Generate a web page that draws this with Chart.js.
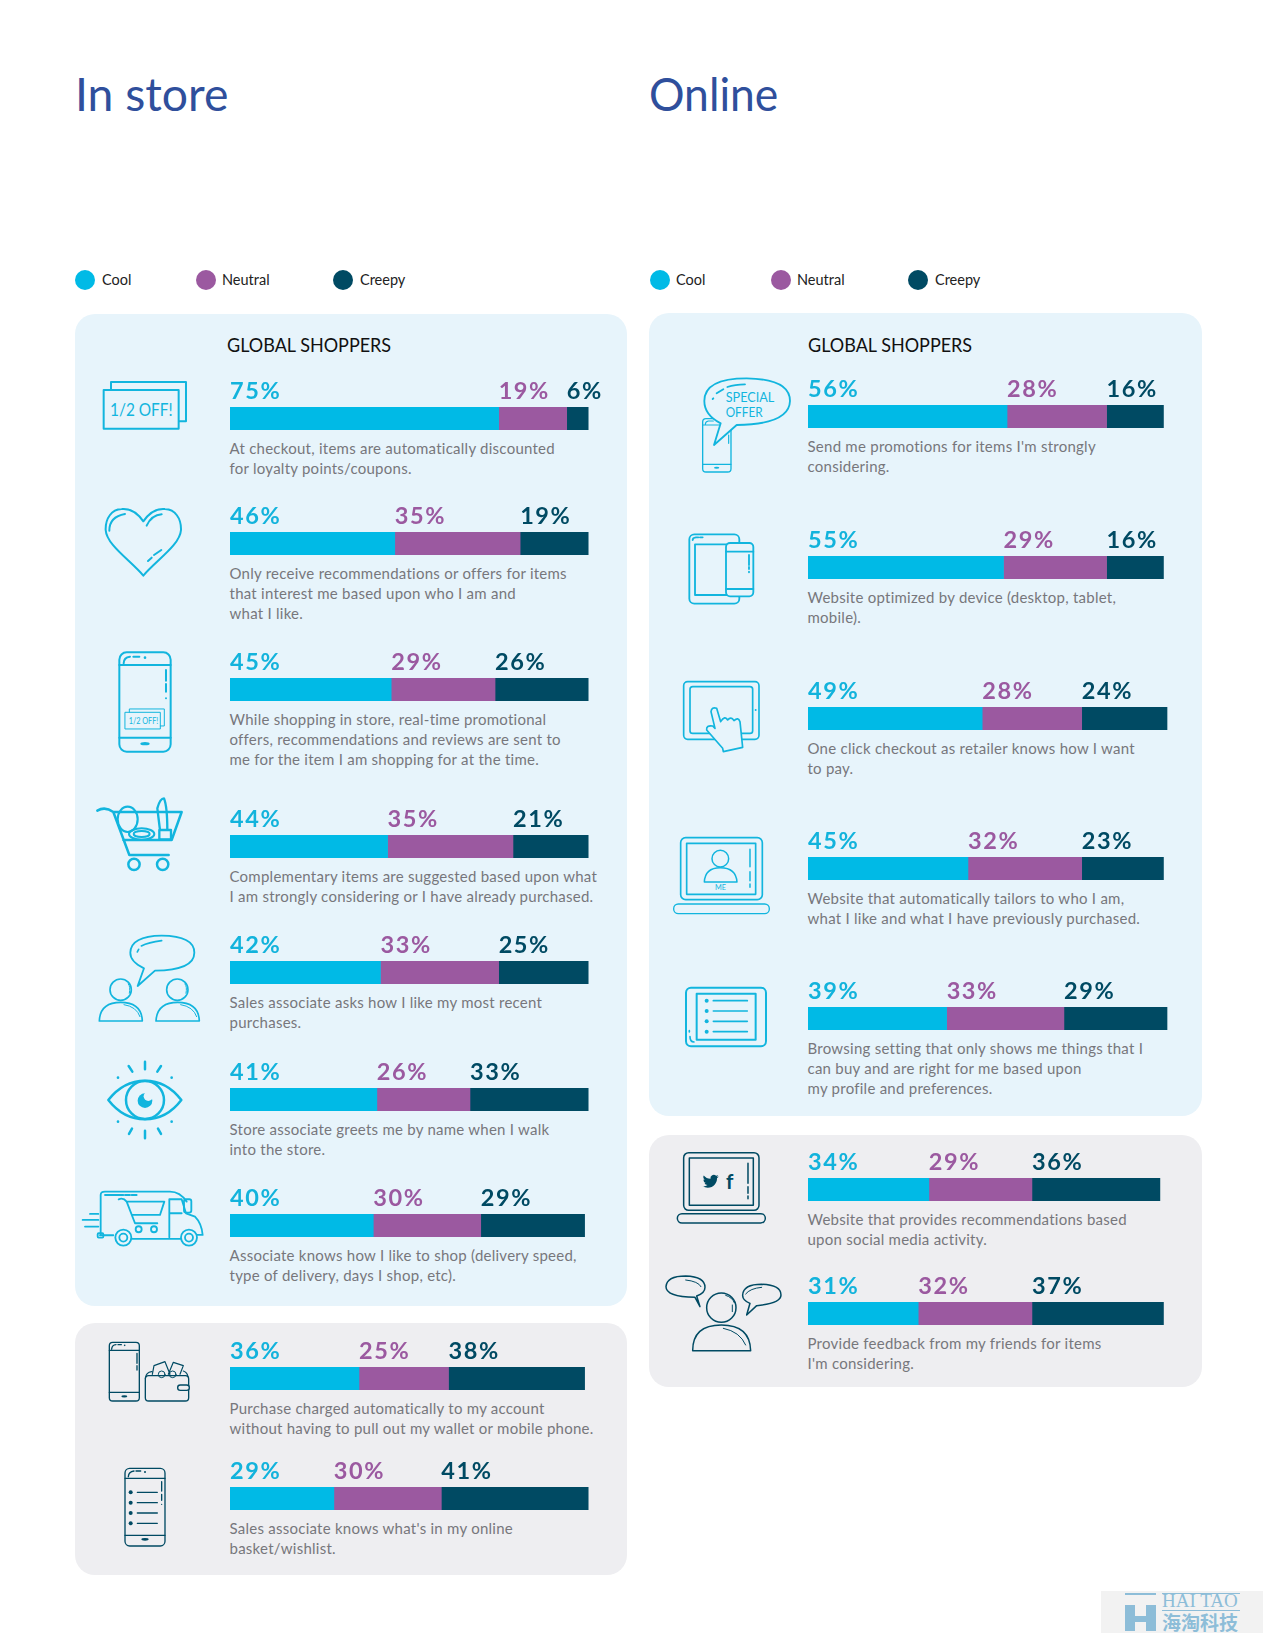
<!DOCTYPE html>
<html>
<head>
<meta charset="utf-8">
<title>In store / Online</title>
<script src="https://cdn.jsdelivr.net/npm/chart.js@4"></script>
<style>
html, body { margin: 0; padding: 0; background: #fff; }
#page { position: relative; width: 1275px; height: 1650px; overflow: hidden; font-family: Lato, sans-serif; }
#page > * { position: absolute; }
.title { font-size: 47px; line-height: 50px; color: #2f4f9c; transform-origin: left top; }
.panel { border-radius: 20px; }
.blue { background: #e7f4fb; }
.gray { background: #eeeef1; }
.heading { font-size: 20px; line-height: 24px; color: #111; transform: scaleX(.9); transform-origin: left top; }
.dot { width: 20px; height: 20px; border-radius: 50%; }
.legend { font-size: 14.5px; line-height: 20px; color: #222; }
.statement { font-size: 15px; line-height: 20px; color: #77777c; white-space: pre; letter-spacing: .25px; }
svg.icons { left: 0; top: 0; }
svg.icons .c { stroke: #12b5de; fill: none; stroke-linecap: round; stroke-linejoin: round; }
svg.icons .d { stroke: #004a63; fill: none; stroke-linecap: round; stroke-linejoin: round; }
svg.icons text { font-family: Lato, sans-serif; }
</style>
</head>
<body>
<div id="page">
  <div class="title" style="left:75px;top:68px;transform:scaleX(.985)">In store</div>
  <div class="title" style="left:649px;top:68px;transform:scaleX(.945)">Online</div>

  <div class="panel blue" style="left:75px;top:314px;width:552px;height:992px"></div>
  <div class="panel gray" style="left:75px;top:1323px;width:552px;height:252px"></div>
  <div class="panel blue" style="left:649px;top:313px;width:553px;height:803px"></div>
  <div class="panel gray" style="left:649px;top:1135px;width:553px;height:252px"></div>

  <div class="heading" style="left:227px;top:332px">GLOBAL SHOPPERS</div>
  <div class="heading" style="left:808px;top:332px">GLOBAL SHOPPERS</div>

  <!-- watermark -->
  <div style="left:1101px;top:1591px;width:162px;height:42px;background:#f2f2f2"></div>
  <div style="left:1125px;top:1593px;width:31px;height:2px;background:#8dbdd8"></div>
  <div style="left:1125px;top:1605px;width:10px;height:26px;background:#8dbdd8"></div>
  <div style="left:1146px;top:1605px;width:10px;height:26px;background:#8dbdd8"></div>
  <div style="left:1135px;top:1616px;width:11px;height:6px;background:#8dbdd8"></div>
  <div style="left:1162px;top:1593px;width:78px;height:1px;background:#8dbdd8"></div>
  <div style="left:1162px;top:1610px;width:78px;height:1px;background:#8dbdd8"></div>
  <div style="left:1162px;top:1593px;font:19px/16px 'Liberation Serif',serif;color:#8dbdd8;white-space:pre">HAI TAO</div>
  <div style="left:1162px;top:1612px;font:bold 19px/19px 'Noto Sans CJK SC',sans-serif;color:#8dbdd8;white-space:pre">海淘科技</div>

  <svg class="icons" width="1275" height="1650" viewBox="0 0 1275 1650">
    <!-- coupon -->
    <g transform="translate(80,360) scale(.3333)" stroke-width="6">
      <path class="c" d="M93 90V66H318V184H298"/>
      <rect class="c" x="71" y="90" width="225" height="116"/>
      <text x="90" y="168" font-size="54" textLength="188" lengthAdjust="spacingAndGlyphs" fill="#12b5de">1/2 OFF!</text>
      <!-- heart -->
      <path class="c" d="M190 484C170 455 145 445 125 447C95 448 76 475 77 510C80 555 150 600 190 647C230 600 300 555 303 510C304 475 285 448 255 447C235 445 210 455 190 484Z"/>
      <path class="c" d="M88 512Q88 470 135 462M200 497Q215 465 245 463M204 603L215 593M222 585L244 570"/>
      <!-- phone with coupon -->
      <rect class="c" x="118" y="877" width="154" height="298" rx="22"/>
      <path class="c" d="M118 915H272M118 1133H272M131 910Q131 892 150 890M160 890H178M258 930V962M258 972V995"/>
      <circle cx="195" cy="893" r="4" fill="#12b5de"/><circle cx="258" cy="1015" r="3" fill="#12b5de"/>
      <ellipse cx="195" cy="1151" rx="14" ry="5" fill="#12b5de"/>
      <rect class="c" x="136" y="1057" width="105" height="50" stroke-width="3"/>
      <path class="c" d="M148 1057V1047H253V1098H241" stroke-width="3"/>
      <text x="146" y="1092" font-size="26" textLength="89" lengthAdjust="spacingAndGlyphs" fill="#12b5de">1/2 OFF!</text>
    </g>
    <g transform="translate(80,780) scale(.3333)" stroke-width="7.5">
      <!-- cart -->
      <path class="c" d="M52 92Q75 78 100 96L148 225H266M100 96H305L275 180H130"/>
      <circle class="c" cx="162" cy="253" r="17"/><circle class="c" cx="248" cy="253" r="17"/>
      <ellipse class="c" cx="143" cy="118" rx="30" ry="38" stroke-width="6.5"/>
      <ellipse class="c" cx="185" cy="162" rx="38" ry="17" stroke-width="6"/>
      <ellipse class="c" cx="185" cy="162" rx="24" ry="9" stroke-width="6"/>
      <path class="c" d="M232 85Q240 55 252 55Q262 80 262 150H240L232 85M238 150H273V178H238Z" stroke-width="7"/>
      <!-- speech bubble, two people -->
      <g stroke-width="5">
        <path class="c" d="M173 618L192 565Q150 545 151 518Q153 468 245 467Q343 468 343 518Q343 570 225 572Z" stroke-width="5.5"/>
        <path class="c" d="M172 516L176 508M184 498Q205 487 245 482"/>
        <circle class="c" cx="122" cy="629" r="32"/><circle class="c" cx="292" cy="629" r="32"/>
        <path class="c" d="M58 723Q60 667 122 667Q185 667 187 723ZM228 723Q231 667 293 667Q356 667 358 723Z"/>
        <path class="c" d="M145 612Q152 620 148 640M132 674Q170 680 180 710M315 612Q322 620 318 640M302 674Q340 680 350 710" stroke-width="3"/>
      </g>
      <!-- eye -->
      <path class="c" d="M85 960Q130 902 195 902Q260 902 304 960Q260 1018 195 1018Q130 1018 85 960Z"/>
      <circle class="c" cx="195" cy="960" r="57"/>
      <circle cx="195" cy="962" r="22" fill="#12b5de"/><circle cx="205" cy="949" r="14" fill="#e7f4fb"/>
      <path class="c" d="M195 845V868M146 858L157 875M243 858L232 875M195 1052V1075M147 1062L156 1046M243 1062L234 1046"/>
      <circle cx="114" cy="893" r="4" fill="#12b5de"/><circle cx="275" cy="893" r="4" fill="#12b5de"/>
      <circle cx="114" cy="1025" r="4" fill="#12b5de"/><circle cx="275" cy="1025" r="4" fill="#12b5de"/>
      <!-- delivery truck -->
      <g stroke-width="5.5">
        <path class="c" d="M62 1362V1245Q62 1235 75 1235H270Q300 1235 320 1265M60 1366H100M155 1377H302M352 1365H368Q365 1330 345 1310L318 1300L305 1258H268V1372M305 1300H268"/>
        <rect class="c" x="53" y="1360" width="17" height="13" rx="3"/>
        <circle class="c" cx="130" cy="1373" r="24"/><circle class="c" cx="130" cy="1373" r="12"/>
        <circle class="c" cx="327" cy="1373" r="24"/><circle class="c" cx="327" cy="1373" r="12"/>
        <path class="c" d="M116 1258Q130 1252 140 1265L165 1330H232M140 1265H253L240 1305H157"/>
        <circle class="c" cx="176" cy="1348" r="9"/><circle class="c" cx="222" cy="1348" r="9"/>
        <path class="c" d="M30 1302H55M8 1320H55M15 1340H55M75 1245H130M135 1245H150M155 1245H170"/>
        <rect class="c" x="312" y="1258" width="22" height="40" rx="6"/>
      </g>
    </g>
    <!-- wallet + phone, list phone -->
    <g transform="translate(100,1335) scale(.3333)" stroke-width="4">
      <rect class="d" x="28" y="22" width="90" height="176" rx="10"/>
      <path class="d" d="M28 46H118M28 172H118M35 42Q36 30 48 29M54 29H64M111 55V85M111 92V105"/>
      <circle cx="74" cy="31" r="2.5" fill="#004a63"/><ellipse cx="73" cy="184" rx="9" ry="3.5" fill="#004a63"/>
      <rect class="d" x="136" y="122" width="130" height="76" rx="10"/>
      <path class="d" d="M136 130Q138 112 155 110M250 108Q262 112 264 125M157 118L162 92L195 80L210 118M205 118L220 82L250 92L240 118" stroke-width="3.5"/>
      <rect class="d" x="233" y="150" width="35" height="16" rx="8" style="fill:#eeeef1"/>
      <circle class="d" cx="185" cy="118" r="10" stroke-width="3"/><circle class="d" cx="218" cy="118" r="10" stroke-width="3"/>
      <rect class="d" x="75" y="400" width="120" height="233" rx="14"/>
      <path class="d" d="M75 430H195M75 601H195M85 425Q86 410 102 408M108 408H122M185 440V468M185 478V496M112 472H172M112 503H172M112 534H172M112 565H172"/>
      <circle cx="135" cy="411" r="3" fill="#004a63"/><circle cx="185" cy="508" r="2" fill="#004a63"/>
      <circle cx="92" cy="472" r="6" fill="#004a63"/><circle cx="92" cy="503" r="6" fill="#004a63"/>
      <circle cx="92" cy="534" r="6" fill="#004a63"/><circle cx="92" cy="565" r="6" fill="#004a63"/>
      <ellipse cx="135" cy="613" rx="11" ry="4" fill="#004a63"/>
    </g>
    <!-- special offer, tablet + phone -->
    <g transform="translate(670,365) scale(.3333)" stroke-width="5.5">
      <rect class="c" x="98" y="161" width="85" height="160" rx="10" stroke-width="4"/>
      <path class="c" d="M98 180H183M98 298H183M106 178Q106 170 115 168H130M176 210V235" stroke-width="3.5"/>
      <ellipse cx="140" cy="308" rx="8" ry="3" fill="#12b5de"/>
      <path class="c" style="fill:#e7f4fb" d="M132 240L152 175Q103 150 103 108Q103 40 230 40Q360 42 360 108Q358 178 200 180Z"/>
      <path class="c" d="M128 102L130 100M140 85L160 73M172 66Q195 58 225 58"/>
      <text x="167" y="110" font-size="39" textLength="146" lengthAdjust="spacingAndGlyphs" fill="#12b5de">SPECIAL</text>
      <text x="167" y="155" font-size="39" textLength="111" lengthAdjust="spacingAndGlyphs" fill="#12b5de">OFFER</text>
      <rect class="c" x="58" y="508" width="150" height="208" rx="15"/>
      <rect class="c" x="75" y="538" width="100" height="152"/>
      <rect class="c" x="168" y="534" width="82" height="160" rx="12" style="fill:#e7f4fb"/>
      <path class="c" d="M168 560H250M168 672H250M237 570V600M237 606V612M237 620V622M68 525Q68 518 78 517H85M90 517H98"/>
    </g>
    <!-- one click, me laptop, list tablet -->
    <g transform="translate(660,660) scale(.3333)" stroke-width="5">
      <rect class="c" x="71" y="65" width="226" height="173" rx="12"/>
      <rect class="c" x="90" y="80" width="188" height="140" rx="8"/>
      <circle cx="287" cy="150" r="3" fill="#12b5de"/>
      <path class="c" style="fill:#e7f4fb" d="M188 265L140 210Q138 195 158 198L165 205L153 155Q155 140 170 145L182 185Q195 165 203 180Q213 168 222 182Q235 170 240 185L248 262L190 275Z"/>
      <rect class="c" x="62" y="533" width="245" height="186" rx="15"/>
      <rect class="c" x="80" y="550" width="207" height="153"/>
      <circle class="c" cx="181" cy="596" r="25" stroke-width="4.5"/>
      <path class="c" d="M133 666Q135 623 181 623Q228 623 231 666Z" stroke-width="4.5"/>
      <path class="c" d="M270 568V620M270 635V662M270 672V682" stroke-width="4.5"/>
      <text x="165" y="689" font-size="20" textLength="33" lengthAdjust="spacingAndGlyphs" fill="#12b5de">ME</text>
      <rect class="c" x="41" y="732" width="287" height="29" rx="14" stroke-width="4"/>
      <rect class="c" x="78" y="983" width="240" height="176" rx="15" stroke-width="6"/>
      <rect class="c" x="110" y="1001" width="177" height="138" stroke-width="6"/>
      <path class="c" d="M160 1022H262M160 1053H262M160 1084H262M160 1115H262M88 1112V1116M90 1130Q90 1145 102 1146"/>
      <circle cx="140" cy="1022" r="6" fill="#12b5de"/><circle cx="140" cy="1053" r="6" fill="#12b5de"/>
      <circle cx="140" cy="1084" r="6" fill="#12b5de"/><circle cx="140" cy="1115" r="6" fill="#12b5de"/>
    </g>
    <!-- social laptop, friends -->
    <g transform="translate(655,1140) scale(.3333)" stroke-width="4.5">
      <rect class="d" x="86" y="38" width="226" height="173" rx="15"/>
      <rect class="d" x="103" y="54" width="192" height="142"/>
      <path class="d" d="M279 70V130M279 140V160M279 168V176"/>
      <rect class="d" x="67" y="221" width="264" height="28" rx="14"/>
      <path transform="translate(143,100) scale(2)" fill="#004a63" d="M23.953 4.57a10 10 0 01-2.825.775 4.958 4.958 0 002.163-2.723c-.951.555-2.005.959-3.127 1.184a4.92 4.92 0 00-8.384 4.482C7.69 8.095 4.067 6.13 1.64 3.162a4.822 4.822 0 00-.666 2.475c0 1.71.87 3.213 2.188 4.096a4.904 4.904 0 01-2.228-.616v.06a4.923 4.923 0 003.946 4.827 4.996 4.996 0 01-2.212.085 4.936 4.936 0 004.604 3.417 9.867 9.867 0 01-6.102 2.105c-.39 0-.779-.023-1.17-.067a13.995 13.995 0 007.557 2.209c9.053 0 13.998-7.496 13.998-13.985 0-.21 0-.42-.015-.63A9.935 9.935 0 0024 4.59z"/>
      <text x="224" y="147" text-anchor="middle" font-weight="bold" font-size="62" fill="#004a63">f</text>
      <circle class="d" cx="199" cy="503" r="44"/>
      <path class="d" d="M113 632Q113 555 199 555Q285 555 287 632Z"/>
      <path class="d" d="M205 565Q255 575 272 615M232 495V515M212 466Q232 472 238 488" stroke-width="3"/>
      <path class="d" d="M135 500L120 472Q33 470 33 440Q35 408 92 408Q150 410 150 442Q150 460 125 468Z"/>
      <path class="d" d="M92 420Q130 424 138 440" stroke-width="3"/>
      <path class="d" d="M275 525L285 490Q262 480 263 465Q265 433 320 433Q378 435 378 465Q378 490 305 497Z"/>
      <path class="d" d="M272 462Q285 445 320 442" stroke-width="3"/>
    </g>
  </svg>
</div>

<script>
const COLOR = { cool: "#00bae6", neutral: "#9b59a0", creepy: "#004a63" };
const LABEL_COLOR = { cool: "#12b3dc", neutral: "#9b59a0", creepy: "#004a63" };

const seriesNames = ["Cool", "Neutral", "Creepy"];

const inStoreStatements = [
    "At checkout, items are automatically discounted\nfor loyalty points/coupons.",
    "Only receive recommendations or offers for items\nthat interest me based upon who I am and\nwhat I like.",
    "While shopping in store, real-time promotional\noffers, recommendations and reviews are sent to\nme for the item I am shopping for at the time.",
    "Complementary items are suggested based upon what\nI am strongly considering or I have already purchased.",
    "Sales associate asks how I like my most recent\npurchases.",
    "Store associate greets me by name when I walk\ninto the store.",
    "Associate knows how I like to shop (delivery speed,\ntype of delivery, days I shop, etc).",
    "Purchase charged automatically to my account\nwithout having to pull out my wallet or mobile phone.",
    "Sales associate knows what's in my online\nbasket/wishlist.",
];
const inStoreCool = [75, 46, 45, 44, 42, 41, 40, 36, 29];
const inStoreNeutral = [19, 35, 29, 35, 33, 26, 30, 25, 30];
const inStoreCreepy = [6, 19, 26, 21, 25, 33, 29, 38, 41];

const onlineStatements = [
    "Send me promotions for items I'm strongly\nconsidering.",
    "Website optimized by device (desktop, tablet,\nmobile).",
    "One click checkout as retailer knows how I want\nto pay.",
    "Website that automatically tailors to who I am,\nwhat I like and what I have previously purchased.",
    "Browsing setting that only shows me things that I\ncan buy and are right for me based upon\nmy profile and preferences.",
    "Website that provides recommendations based\nupon social media activity.",
    "Provide feedback from my friends for items\nI'm considering.",
];
const onlineCool = [56, 55, 49, 45, 39, 34, 31];
const onlineNeutral = [28, 29, 28, 32, 33, 29, 32];
const onlineCreepy = [16, 16, 24, 23, 29, 36, 37];

// where each row's bar starts on the page
const inStoreBarTops = [407, 532, 678, 835, 961, 1088, 1214, 1367, 1487];
const onlineBarTops = [405, 556, 707, 857, 1007, 1178, 1302];

const page = document.getElementById("page");
const BAR_HEIGHT = 23;
const LABEL_ROOM = 34;
const X_MAX = 110;

const valueLabels = {
    id: "valueLabels",
    afterDatasetsDraw(chart) {
        const { ctx, chartArea, scales } = chart;
        ctx.save();
        ctx.font = "bold 23.5px Lato, sans-serif";
        ctx.letterSpacing = "1.6px";
        ctx.textBaseline = "alphabetic";
        let start = 0;
        chart.data.datasets.forEach(ds => {
            ctx.fillStyle = ds.labelColor;
            ctx.fillText(ds.data[0] + "%", scales.x.getPixelForValue(start), chartArea.top - 8);
            start += ds.data[0];
        });
        ctx.restore();
    },
};

function addRow(left, top, pxPerPct, cool, neutral, creepy, statement) {
    const canvas = document.createElement("canvas");
    const width = Math.round(X_MAX * pxPerPct);
    const height = LABEL_ROOM + BAR_HEIGHT;
    canvas.style.cssText = `left:${left}px;top:${top - LABEL_ROOM}px;width:${width}px;height:${height}px`;
    page.appendChild(canvas);

    const bar = (i, value, key) => ({
        label: seriesNames[i],
        data: [value],
        backgroundColor: COLOR[key],
        labelColor: LABEL_COLOR[key],
        borderWidth: 0,
        barPercentage: 1,
        categoryPercentage: 1,
    });

    new Chart(canvas, {
        type: "bar",
        data: {
            labels: [statement],
            datasets: [bar(0, cool, "cool"), bar(1, neutral, "neutral"), bar(2, creepy, "creepy")],
        },
        options: {
            indexAxis: "y",
            responsive: false,
            animation: false,
            layout: { padding: { top: LABEL_ROOM } },
            plugins: { legend: { display: false }, tooltip: { enabled: false } },
            scales: {
                x: { stacked: true, min: 0, max: X_MAX, display: false },
                y: { stacked: true, display: false },
            },
        },
        plugins: [valueLabels],
    });

    const text = document.createElement("div");
    text.className = "statement";
    text.style.cssText = `left:${left}px;top:${top + BAR_HEIGHT + 8}px`;
    text.textContent = statement;
    page.appendChild(text);
}

function addLegend(dotXs, textXs) {
    seriesNames.forEach((name, i) => {
        const dot = document.createElement("div");
        dot.className = "dot";
        dot.style.cssText = `left:${dotXs[i]}px;top:270px;background:${Object.values(COLOR)[i]}`;
        page.appendChild(dot);
        const label = document.createElement("div");
        label.className = "legend";
        label.style.cssText = `left:${textXs[i]}px;top:270px`;
        label.textContent = name;
        page.appendChild(label);
    });
}

addLegend([75, 196, 333], [102, 222, 360]);
addLegend([650, 771, 908], [676, 797, 935]);

inStoreStatements.forEach((s, i) => {
    addRow(229.5, inStoreBarTops[i], 3.58, inStoreCool[i], inStoreNeutral[i], inStoreCreepy[i], s);
});
onlineStatements.forEach((s, i) => {
    addRow(807.5, onlineBarTops[i], 3.55, onlineCool[i], onlineNeutral[i], onlineCreepy[i], s);
});
</script>
</body>
</html>
